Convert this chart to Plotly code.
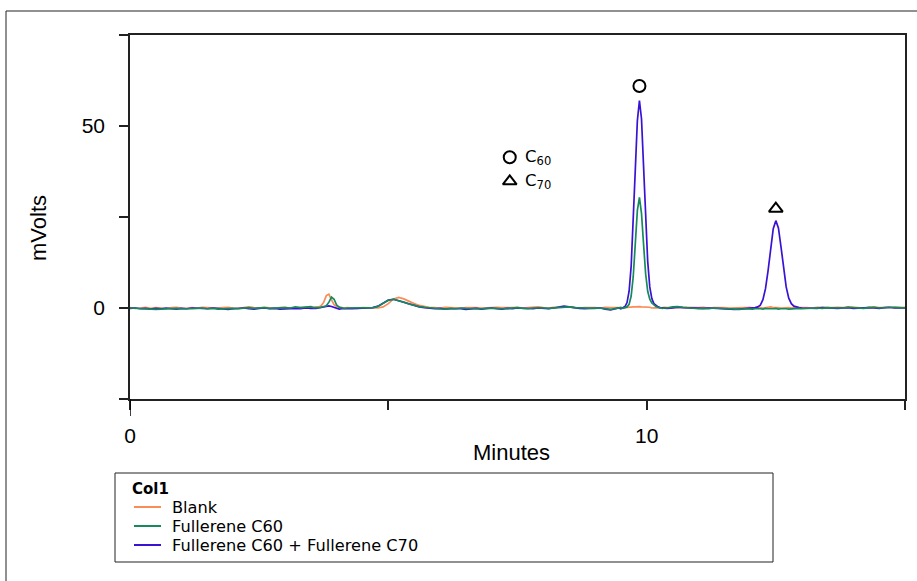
import plotly.graph_objects as go

# Retention-time grid (minutes), finer around the peaks
T_A = [0.0, 0.1, 0.2, 0.3, 0.4, 0.5, 0.6, 0.7, 0.8, 0.9, 1.0, 1.1, 1.2, 1.3, 1.4, 1.5, 1.6, 1.7,
       1.8, 1.9, 2.0, 2.1, 2.2, 2.3, 2.4, 2.5, 2.6, 2.7, 2.8, 2.9, 3.0, 3.1, 3.2, 3.3, 3.4, 3.5]
T_B = [3.55, 3.6, 3.65, 3.7, 3.75, 3.8, 3.85, 3.9, 3.95, 4.0, 4.05, 4.1, 4.15, 4.2]
T_C = [4.3, 4.4, 4.5, 4.6, 4.7, 4.8, 4.9, 5.0, 5.1, 5.2, 5.3, 5.4, 5.5, 5.6, 5.7, 5.8,
       5.9, 6.0, 6.1, 6.2, 6.3, 6.4, 6.5, 6.6, 6.7, 6.8, 6.9, 7.0, 7.1, 7.2, 7.3, 7.4, 7.5, 7.6,
       7.7, 7.8, 7.9, 8.0, 8.1, 8.2, 8.3, 8.4, 8.5, 8.6, 8.7, 8.8, 8.9, 9.0, 9.1, 9.2, 9.3, 9.4]
T_D = [9.46, 9.50, 9.54, 9.58, 9.62, 9.66, 9.70, 9.74, 9.78, 9.82, 9.86, 9.90, 9.94, 9.98,
       10.02, 10.06, 10.10, 10.14, 10.18, 10.22, 10.26, 10.30, 10.34]
T_E = [10.4, 10.5, 10.6, 10.7, 10.8, 10.9, 11.0, 11.1, 11.2, 11.3, 11.4, 11.5, 11.6, 11.7, 11.8, 11.9]
T_F = [11.95, 12.0, 12.05, 12.1, 12.15, 12.2, 12.25, 12.3, 12.35, 12.4, 12.45, 12.5, 12.55,
       12.6, 12.65, 12.7, 12.75, 12.8, 12.85, 12.9, 12.95, 13.0]
T_G = [13.1, 13.2, 13.3, 13.4, 13.5, 13.6, 13.7, 13.8, 13.9, 14.0, 14.1, 14.2, 14.3, 14.4,
       14.5, 14.6, 14.7, 14.8, 14.9, 15.0]

# Detector signal (mV) for each run, per time segment
BLANK_A = [0.1, -0.1, 0.0, 0.2, -0.1, 0.1, 0.0, -0.2, 0.1, 0.2, 0.0, -0.1, 0.1, 0.0, 0.2, 0.1, -0.1, 0.0,
           0.1, 0.2, 0.0, -0.1, 0.1, 0.3, 0.1, 0.0, 0.2, 0.1, -0.1, 0.1, 0.2, 0.0, 0.1, 0.3, 0.2, 0.1]
BLANK_B = [0.1, 0.2, 0.3, 0.6, 1.6, 3.4, 3.8, 2.2, 0.9, 0.4, 0.2, 0.1, 0.0, 0.1]
BLANK_C = [0.0, -0.1, 0.1, 0.0, -0.1, 0.0, 0.3, 1.2, 2.5, 2.9, 2.5, 1.8, 1.2, 0.7, 0.3, 0.1,
           0.1, 0.0, 0.2, 0.1, -0.1, 0.0, 0.1, 0.2, 0.1, 0.0, 0.1, 0.3, 0.2, 0.1, 0.0, 0.1, 0.2, 0.0,
           0.1, 0.2, 0.3, 0.1, 0.0, 0.2, 0.1, 0.2, 0.3, 0.1, 0.0, 0.1, 0.2, 0.1, 0.0, 0.2, 0.1, 0.0]
BLANK_D = [0.1, 0.2, 0.0, 0.1, 0.2, 0.1, 0.2, 0.3, 0.3, 0.4, 0.4, 0.3, 0.3, 0.2, 0.1, 0.2, 0.0,
           0.1, 0.2, 0.1, 0.0, 0.1, 0.2]
BLANK_E = [0.1, 0.0, 0.1, 0.2, 0.1, 0.0, 0.1, 0.2, 0.0, 0.1, 0.2, 0.1, 0.0, 0.1, 0.2, 0.1]
BLANK_F = [0.1, 0.2, 0.0, 0.1, 0.2, 0.1, 0.0, 0.1, 0.2, 0.3, 0.1, 0.2, 0.1, 0.0, 0.1, 0.2, 0.1,
           0.0, 0.2, 0.1, 0.0, 0.1]
BLANK_G = [0.1, 0.0, 0.2, 0.1, 0.0, 0.1, 0.2, 0.1, 0.3, 0.2, 0.1, 0.0, 0.2, 0.3, 0.1, 0.2, 0.3,
           0.2, 0.1, 0.2]

C60_A = [0.0, -0.1, -0.2, -0.3, -0.2, -0.4, -0.3, -0.2, -0.3, -0.1, -0.2, -0.3, -0.2, -0.1, 0.0, -0.2,
         -0.1, -0.3, -0.2, 0.0, -0.1, -0.2, 0.0, 0.1, -0.1, 0.0, 0.1, -0.1, 0.0, 0.2, 0.1, 0.0, 0.3,
         0.1, 0.2, 0.4]
C60_B = [0.1, 0.0, 0.1, 0.2, 0.3, 0.6, 1.6, 3.0, 2.4, 0.8, 0.2, 0.0, -0.1, 0.0]
C60_C = [0.0, 0.1, -0.1, 0.0, 0.1, 0.4, 1.3, 2.1, 2.4, 2.1, 1.6, 1.1, 0.7, 0.4, 0.2, 0.0,
         -0.1, -0.2, -0.3, -0.1, -0.2, 0.0, -0.1, -0.2, -0.3, -0.2, -0.1, 0.0, -0.1, -0.2, -0.1, 0.0,
         0.1, -0.1, -0.2, 0.0, 0.1, 0.0, -0.1, 0.0, 0.2, 0.4, 0.3, 0.1, 0.0, -0.1, -0.2, -0.1, 0.0,
         -0.2, -0.4, -0.1]
C60_D = [0.0, 0.1, -0.1, 0.1, 0.3, 1.0, 3.3, 8.6, 17.5, 26.8, 30.4, 26.0, 17.5, 9.4, 4.6, 2.4,
         1.4, 0.8, 0.4, 0.2, 0.0, -0.1, 0.0]
C60_E = [0.0, 0.3, 0.4, 0.2, 0.0, -0.1, -0.2, -0.1, -0.2, 0.0, -0.1, -0.2, -0.3, -0.5, -0.4, -0.2]
C60_F = [-0.3, -0.2, -0.3, -0.2, -0.1, -0.2, -0.3, -0.1, -0.2, -0.3, -0.2, -0.1, -0.3, -0.2, -0.1,
         -0.2, -0.3, -0.2, -0.1, 0.0, -0.1, -0.2]
C60_G = [-0.1, -0.2, 0.0, -0.1, 0.1, 0.0, -0.1, 0.0, 0.2, 0.1, 0.0, -0.1, 0.1, 0.2, 0.0, 0.1, 0.0,
         0.2, 0.1, 0.0]

MIX_A = [-0.1, 0.0, -0.2, -0.1, -0.3, -0.1, -0.2, 0.0, -0.2, -0.3, -0.1, -0.2, 0.0, -0.1, -0.3, -0.2,
         0.0, -0.1, -0.2, -0.4, -0.2, -0.1, 0.0, -0.2, -0.3, -0.1, 0.0, -0.2, -0.1, -0.3, -0.2, 0.0,
         -0.1, -0.2, 0.0, -0.1]
MIX_B = [-0.2, -0.1, 0.0, 0.1, 0.3, 0.5, 0.6, 0.4, 0.1, -0.2, -0.3, -0.2, -0.3, -0.2]
MIX_C = [-0.2, -0.1, -0.2, 0.0, 0.1, 0.5, 1.4, 2.2, 2.4, 2.0, 1.5, 1.0, 0.6, 0.3, 0.1, -0.1,
         -0.2, -0.1, -0.3, -0.2, -0.1, -0.2, -0.4, -0.2, -0.1, -0.3, -0.2, 0.0, -0.2, -0.3, -0.1, -0.2,
         0.0, -0.1, -0.3, -0.2, 0.0, -0.1, -0.2, 0.0, 0.2, 0.5, 0.3, 0.0, -0.1, -0.2, -0.1, -0.2, 0.0,
         -0.3, -0.5, -0.2]
MIX_D = [0.0, -0.2, 0.1, 0.4, 1.5, 4.6, 11.5, 23.0, 38.0, 51.5, 57.0, 52.0, 39.0, 24.5, 12.8, 5.8,
         2.6, 1.2, 0.6, 0.3, 0.1, 0.0, -0.1]
MIX_E = [-0.1, 0.0, 0.2, 0.1, 0.0, -0.1, -0.2, -0.1, 0.0, -0.1, -0.2, -0.3, -0.2, -0.4, -0.3, -0.2]
MIX_F = [-0.2, 0.0, 0.1, 0.1, 0.3, 0.8, 2.3, 5.3, 10.3, 16.4, 21.8, 24.0, 22.0, 16.8, 10.8, 5.8,
         2.7, 1.2, 0.5, 0.2, 0.1, 0.0]
MIX_G = [-0.1, 0.0, -0.1, 0.1, 0.0, -0.2, -0.1, 0.0, 0.1, -0.1, 0.0, 0.2, 0.1, 0.0, -0.1, 0.1, 0.2,
         0.0, 0.1, 0.0]

LEGEND_TITLE = "Col1"
SERIES_NAMES = ["Blank", "Fullerene C60", "Fullerene C60 + Fullerene C70"]
SERIES_COLORS = ["#F98C57", "#168A5C", "#3A12D4"]

# Peak identification marks: (minutes, mV)
C60_MARK = (9.86, 61.0)
C70_MARK = (12.5, 27.3)
KEY_C60 = (7.35, 41.4)
KEY_C70 = (7.35, 34.8)

time = T_A + T_B + T_C + T_D + T_E + T_F + T_G
blank = BLANK_A + BLANK_B + BLANK_C + BLANK_D + BLANK_E + BLANK_F + BLANK_G
c60 = C60_A + C60_B + C60_C + C60_D + C60_E + C60_F + C60_G
mix = MIX_A + MIX_B + MIX_C + MIX_D + MIX_E + MIX_F + MIX_G
series_values = [blank, c60, mix]

W, H = 917, 581
ML, MR, MT, MB = 130, 12, 35, 182
PW, PH = W - ML - MR, H - MT - MB


def px(xp):
    return (xp - ML) / PW


def py(yp):
    return (H - MB - yp) / PH


fig = go.Figure()
# draw order: blank, mix, then C60 on top
for i in (0, 2, 1):
    fig.add_trace(go.Scatter(x=time, y=series_values[i], mode="lines", name=SERIES_NAMES[i],
                             showlegend=False, line=dict(color=SERIES_COLORS[i], width=1.7)))

mark_style = dict(color="black", size=12, line=dict(color="black", width=2))
fig.add_trace(go.Scatter(x=[C60_MARK[0], KEY_C60[0]], y=[C60_MARK[1], KEY_C60[1]], mode="markers",
                         marker=dict(symbol="circle-open", **mark_style), showlegend=False,
                         hoverinfo="skip"))
fig.add_trace(go.Scatter(x=[C70_MARK[0], KEY_C70[0]], y=[C70_MARK[1], KEY_C70[1]], mode="markers",
                         marker=dict(symbol="triangle-up-open", **mark_style), showlegend=False,
                         hoverinfo="skip"))

key_font = dict(family="DejaVu Sans", size=16.5, color="black")
fig.add_annotation(x=KEY_C60[0] + 0.25, y=KEY_C60[1], text="C<sub>60</sub>", showarrow=False,
                   xanchor="left", yanchor="middle", font=key_font)
fig.add_annotation(x=KEY_C70[0] + 0.25, y=KEY_C70[1], text="C<sub>70</sub>", showarrow=False,
                   xanchor="left", yanchor="middle", font=key_font)

tick_font = dict(family="Liberation Sans, Arial, sans-serif", size=21, color="black")
title_font = dict(family="Liberation Sans, Arial, sans-serif", size=22, color="black")
fig.add_annotation(x=px(511), y=py(452), xref="paper", yref="paper", text="Minutes",
                   showarrow=False, xanchor="center", yanchor="middle", font=title_font)
fig.add_annotation(x=px(38), y=py(228), xref="paper", yref="paper", text="mVolts", textangle=-90,
                   showarrow=False, xanchor="center", yanchor="middle", font=title_font)

# outer frame
fig.add_shape(type="rect", xref="paper", yref="paper", x0=px(6), x1=px(930), y0=py(600), y1=py(11),
              line=dict(color="#222", width=1), layer="below")
# y axis line continues a little below the frame
fig.add_shape(type="line", xref="x", yref="paper", x0=0, x1=0, y0=0, y1=py(416),
              line=dict(color="black", width=1.5))

# legend panel below the plot: boxed, titled, one row per run
leg_font = dict(family="DejaVu Sans", size=16.2, color="black")
fig.add_shape(type="rect", xref="paper", yref="paper", x0=px(115), x1=px(773), y0=py(562), y1=py(473),
              line=dict(color="#222", width=1))
fig.add_annotation(x=px(132), y=py(489), xref="paper", yref="paper", text="<b>" + LEGEND_TITLE + "</b>",
                   showarrow=False, xanchor="left", yanchor="middle", xshift=-2,
                   font=dict(family="DejaVu Sans", size=15, color="black"))
for k in range(len(SERIES_NAMES)):
    row_y = py(507 + 19 * k)
    fig.add_shape(type="line", xref="paper", yref="paper", x0=px(134), x1=px(161), y0=row_y, y1=row_y,
                  line=dict(color=SERIES_COLORS[k], width=2))
    fig.add_annotation(x=px(172), y=row_y, xref="paper", yref="paper", text=SERIES_NAMES[k],
                       showarrow=False, xanchor="left", yanchor="middle", xshift=-2, font=leg_font)

tick_style = dict(ticks="outside", ticklen=9, tickwidth=1.5, tickcolor="#222")
fig.update_xaxes(range=[0, 15], tickvals=[0, 10], ticktext=["0", "10"],
                 minor=dict(tick0=0, dtick=5, showgrid=False, **tick_style),
                 showgrid=False, zeroline=False, showline=True, mirror=True, linecolor="#222",
                 linewidth=1.5, tickfont=tick_font, ticklabelstandoff=8, **tick_style)
fig.update_yaxes(range=[-25, 75], tickvals=[0, 50], ticktext=["0", "50"],
                 minor=dict(tick0=0, dtick=25, showgrid=False, **tick_style),
                 showgrid=False, zeroline=False, showline=True, mirror=True, linecolor="#222",
                 linewidth=1.5, tickfont=tick_font, ticklabelstandoff=10, **tick_style)

fig.update_layout(
    width=W, height=H,
    margin=dict(l=ML, r=MR, t=MT, b=MB, autoexpand=False),
    paper_bgcolor="white", plot_bgcolor="white",
    showlegend=False,
)

fig.write_html("out.html")
